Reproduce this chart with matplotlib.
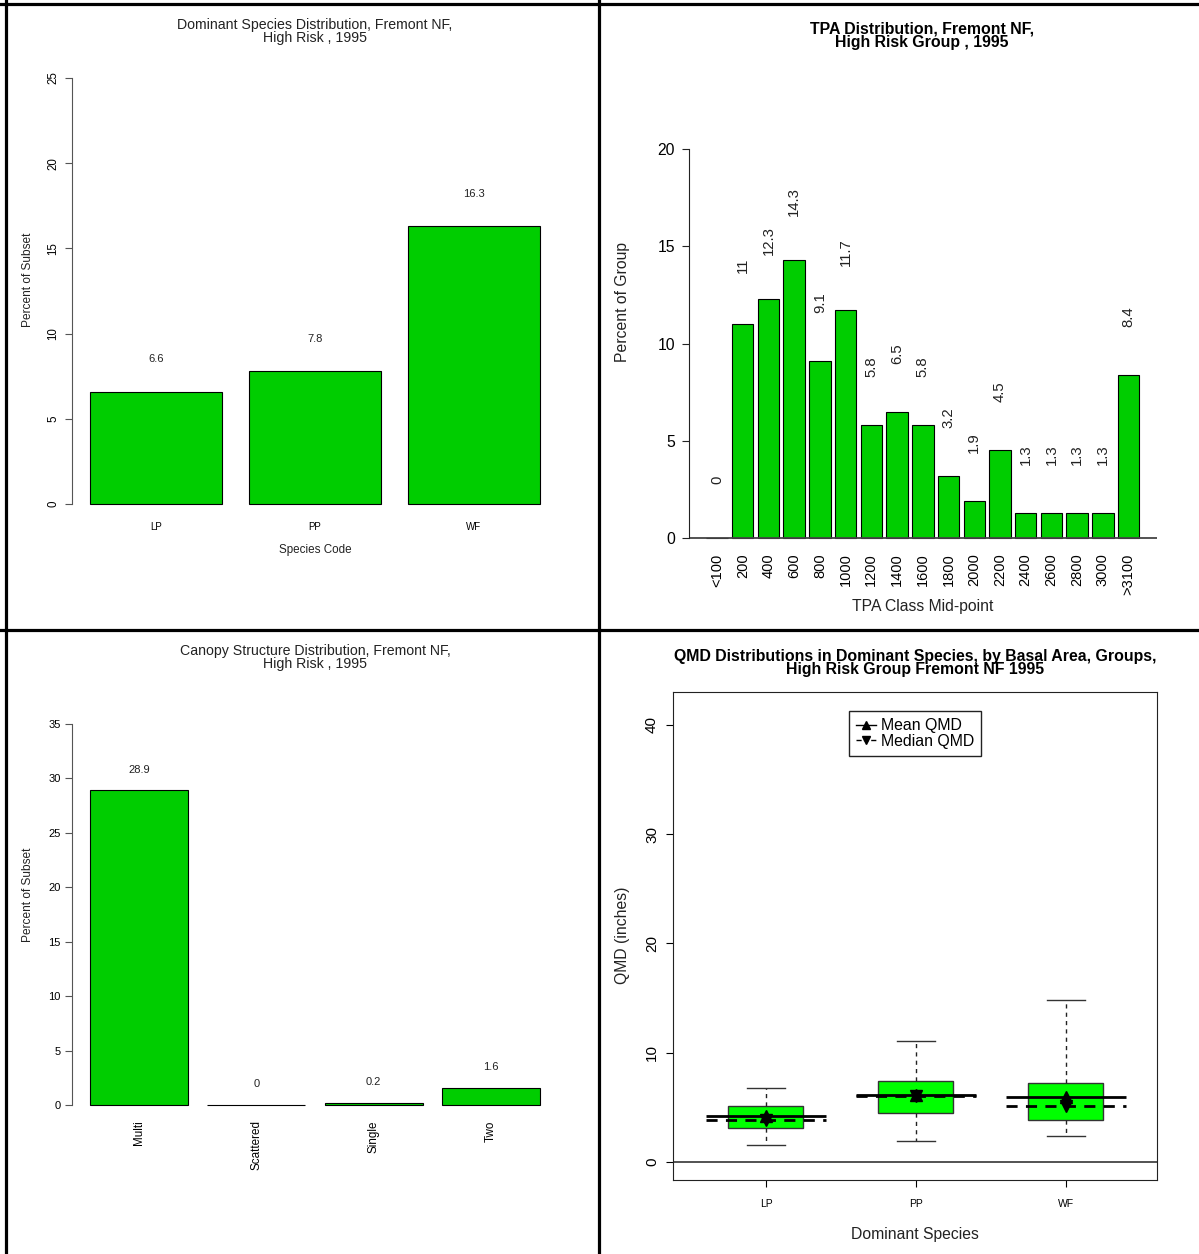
import matplotlib
matplotlib.use("Agg")
import matplotlib.pyplot as plt
from matplotlib.lines import Line2D

plt.rcParams['font.family'] = ['Liberation Sans', 'DejaVu Sans']

# --- data -------------------------------------------------------------
species = ["LP", "PP", "WF"]
species_pct = [6.6, 7.8, 16.3]

tpa_classes = ["<100", "200", "400", "600", "800", "1000", "1200", "1400",
               "1600", "1800", "2000", "2200", "2400", "2600", "2800",
               "3000", ">3100"]
tpa_pct = [0, 11, 12.3, 14.3, 9.1, 11.7, 5.8, 6.5, 5.8, 3.2, 1.9, 4.5,
           1.3, 1.3, 1.3, 1.3, 8.4]

canopy = ["Multi", "Scattered", "Single", "Two"]
canopy_pct = [28.9, 0, 0.2, 1.6]

qmd_species = ["LP", "PP", "WF"]
qmd_whislo = [1.56, 1.92, 2.41]
qmd_q1 = [3.11, 4.51, 3.84]
qmd_q3 = [5.15, 7.44, 7.23]
qmd_whishi = [6.74, 11.04, 14.79]
qmd_mean = [4.24, 6.10, 5.95]
qmd_median = [3.87, 6.05, 5.10]

GREEN3 = "#00CD00"
GREEN = "#00FF00"

W, H = 1199, 1254
fig = plt.figure(figsize=(W / 100, H / 100), dpi=100)


def px_rect(x0, y0, x1, y1):
    return [x0 / W, 1 - y1 / H, (x1 - x0) / W, (y1 - y0) / H]


def ftext(x, y, s, **kw):
    kw.setdefault("ha", "center")
    kw.setdefault("va", "center")
    fig.text(x / W, 1 - y / H, s, **kw)


def bar_positions(n):
    # R barplot: width 1, space 0.2
    return [0.7 + 1.2 * i for i in range(n)]


def left_axis_only(ax, top, color):
    for side in ("top", "right", "bottom"):
        ax.spines[side].set_visible(False)
    ax.spines["left"].set_bounds(0, top)
    ax.spines["left"].set_color(color)
    ax.tick_params(axis="y", color=color, length=5)


# --- panel 1: dominant species ---------------------------------------
ax1 = fig.add_axes(px_rect(72, 61, 558, 521))
pos = bar_positions(len(species))
ax1.bar(pos, species_pct, width=1, color=GREEN3, edgecolor="black", lw=0.8)
for p, v in zip(pos, species_pct):
    ax1.text(p, v + 1.9, f"{v}", ha="center", va="center", fontsize=8, color="#222")
ax1.set_xlim(0.064, 3.736)
ax1.set_ylim(-1, 26)
left_axis_only(ax1, 25, "#555555")
ax1.set_yticks(range(0, 26, 5))
ax1.tick_params(axis="y", labelsize=8.3, labelrotation=90, pad=4)
for lab in ax1.get_yticklabels():
    lab.set_va("center")
ax1.set_xticks(pos, species)
ax1.tick_params(axis="x", length=0, labelsize=7, pad=1)
ftext(315, 31.5, "Dominant Species Distribution, Fremont NF,\nHigh Risk , 1995",
      fontsize=10.2, linespacing=0.9, color="#222")
ftext(315, 550, "Species Code", fontsize=8.4, color="#222")
ftext(28, 280, "Percent of Subset", fontsize=8.6, rotation=90, color="#222")

# --- panel 2: TPA distribution ---------------------------------------
ax2 = fig.add_axes(px_rect(689, 133.4, 1156.6, 553.6))
pos = bar_positions(len(tpa_classes))
ax2.bar(pos, tpa_pct, width=1, color=GREEN3, edgecolor="black", lw=0.8)
ax2.axhline(0, color="#444444", lw=1.3)
for p, v in zip(pos, tpa_pct):
    ax2.text(p, v + 3.0, f"{v:g}", ha="center", va="center", rotation=90,
             fontsize=10.7, color="#222")
ax2.set_xlim(-0.608, 21.208)
ax2.set_ylim(-0.8, 20.8)
left_axis_only(ax2, 20, "#222222")
ax2.set_yticks(range(0, 21, 5))
ax2.tick_params(axis="y", labelsize=11.3, pad=5)
ax2.set_xticks(pos, tpa_classes, rotation=90, va="top")
ax2.tick_params(axis="x", length=0, labelsize=10.5, pad=0)
ftext(922, 35.5, "TPA Distribution, Fremont NF,\nHigh Risk Group , 1995",
      fontsize=11.4, fontweight="bold", linespacing=0.9)
ftext(923, 607, "TPA Class Mid-point", fontsize=11.3, color="#222")
ftext(622, 302, "Percent of Group", fontsize=11.3, rotation=90, color="#222")

# --- panel 3: canopy structure ---------------------------------------
ax3 = fig.add_axes(px_rect(72, 708.8, 558, 1120.2))
pos = bar_positions(len(canopy))
ax3.bar(pos, canopy_pct, width=1, color=GREEN3, edgecolor="black", lw=0.8)
for p, v in zip(pos, canopy_pct):
    ax3.text(p, v + 1.9, f"{v:g}", ha="center", va="center", fontsize=8, color="#222")
ax3.set_xlim(0.016, 4.984)
ax3.set_ylim(-1.4, 36.4)
left_axis_only(ax3, 35, "#555555")
ax3.set_yticks(range(0, 36, 5))
ax3.tick_params(axis="y", labelsize=8, pad=3)
ax3.set_xticks(pos, canopy, rotation=90, va="top")
ax3.tick_params(axis="x", length=0, labelsize=8.4, pad=0)
ftext(315, 657.5, "Canopy Structure Distribution, Fremont NF,\nHigh Risk , 1995",
      fontsize=10.2, linespacing=0.9, color="#222")
ftext(28, 895, "Percent of Subset", fontsize=8.6, rotation=90, color="#222")

# --- panel 4: QMD boxplots -------------------------------------------
ax4 = fig.add_axes(px_rect(673, 692, 1157, 1180))
xs = [1, 2, 3]
stats = [dict(med=md, q1=a, q3=b, whislo=lo, whishi=hi, fliers=[])
         for md, a, b, lo, hi in zip(qmd_median, qmd_q1, qmd_q3, qmd_whislo, qmd_whishi)]
ax4.axhline(0, color="#444444", lw=1.3, zorder=1)
ax4.bxp(stats, positions=xs, widths=0.5, patch_artist=True, showfliers=False,
        boxprops=dict(facecolor=GREEN, edgecolor="#333333", lw=1),
        whiskerprops=dict(color="#222222", lw=1, linestyle=(0, (3, 3))),
        capprops=dict(color="#333333", lw=1),
        medianprops=dict(lw=0))
ax4.hlines(qmd_mean, [x - 0.4 for x in xs], [x + 0.4 for x in xs],
           color="black", lw=2, zorder=4)
ax4.hlines(qmd_median, [x - 0.4 for x in xs], [x + 0.4 for x in xs],
           color="black", lw=2, linestyles=(0, (4, 3)), zorder=4)
ax4.plot(xs, qmd_mean, "^", color="black", markersize=9, zorder=5)
ax4.plot(xs, qmd_median, "v", color="black", markersize=9, zorder=5)
ax4.set_xlim(0.38, 3.607)
ax4.set_ylim(-1.65, 43.02)
ax4.set_yticks(range(0, 41, 10))
ax4.tick_params(axis="y", labelsize=11, labelrotation=90, length=5, pad=5)
for lab in ax4.get_yticklabels():
    lab.set_va("center")
ax4.set_xticks(xs, qmd_species)
ax4.tick_params(axis="x", labelsize=7.5, length=5, pad=9)
for s in ax4.spines.values():
    s.set_color("#222222")
handles = [Line2D([], [], color="black", ls="-", marker="^", markersize=6, lw=1),
           Line2D([], [], color="black", ls="--", marker="v", markersize=6, lw=1)]
leg = ax4.legend(handles, ["Mean QMD", "Median QMD"], loc="upper center",
                 bbox_to_anchor=(0.5, 0.961), borderaxespad=0, fontsize=11.4,
                 labelspacing=0.05, borderpad=0.45, handlelength=1.3,
                 handletextpad=0.3, fancybox=False, framealpha=1)
leg.get_frame().set_edgecolor("#222222")
leg.get_frame().set_linewidth(1)
ftext(915, 663, "QMD Distributions in Dominant Species, by Basal Area, Groups,\n"
      "High Risk Group Fremont NF 1995", fontsize=11.4, fontweight="bold",
      linespacing=0.9)
ftext(915, 1234, "Dominant Species", fontsize=11.3, color="#222")
ftext(622, 935, "QMD (inches)", fontsize=11.3, rotation=90, color="#222")


# --- panel separators ------------------------------------------------
def sep(x0, y0, x1, y1):
    fig.add_artist(Line2D([x0 / W, x1 / W], [1 - y0 / H, 1 - y1 / H],
                          color="black", lw=2.3, transform=fig.transFigure))


sep(0, 4, W, 4)
sep(6, 0, 6, H)
sep(599, 0, 599, H)
sep(0, 630, W, 630)

fig.savefig("out.png", dpi=100)
